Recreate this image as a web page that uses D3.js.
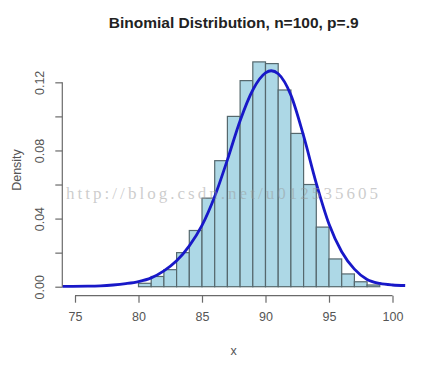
<!DOCTYPE html>
<html><head><meta charset="utf-8">
<script src="https://cdn.jsdelivr.net/npm/d3@7"></script>
<style>html,body{margin:0;padding:0;background:#fff;}svg{display:block;}</style>
</head><body>
<svg id="c" width="426" height="366"></svg>
<script>
// Histogram bins (left edge, right edge) and densities
const binStarts = [80,81,82,83,84,85,86,87,88,89,90,91,92,93,94,95,96,97,98];
const binEnds   = [81,82,83,84,85,86,87,88,89,90,91,92,93,94,95,96,97,98,99];
const densities = [0.002,0.006,0.010,0.020,0.033,0.052,0.074,0.100,0.121,0.132,0.131,0.1155,0.090,0.060,0.035,0.0163,0.0075,0.0029,0.001];
// Density curve
const curveX = [74,76,77,78,79,80,81,82,83,84,85,86,87,88,89,90,90.45,91,92,93,94,95,96,97,98,99,100,101];
const curveY = [0.0002,0.0003,0.0005,0.001,0.0018,0.003,0.0052,0.0093,0.0152,0.0240,0.0360,0.0530,0.0745,0.0975,0.1155,0.1255,0.1268,0.1250,0.1125,0.0885,0.0607,0.0368,0.0205,0.0103,0.0042,0.0019,0.0010,0.0007];
const xTicks = [75,80,85,90,95,100];
const yTicks = [0,0.02,0.04,0.06,0.08,0.10,0.12];
const yLabels = [0,0.04,0.08,0.12];
const xlim = [75,100];
const ylim = [0, d3.max(densities)];

const svg = d3.select("#c");
const L = 62.3, R = 405.2, T = 52.9, B = 295.7;
const xe = (xlim[1]-xlim[0])*0.04, ye = (ylim[1]-ylim[0])*0.04;
const x = d3.scaleLinear().domain([xlim[0]-xe, xlim[1]+xe]).range([L, R]);
const y = d3.scaleLinear().domain([ylim[0]-ye, ylim[1]+ye]).range([B, T]);

const font = "'Liberation Sans', Arial, sans-serif";

// Bars
svg.append("g").selectAll("rect").data(densities).join("rect")
  .attr("x", (d,i) => x(binStarts[i]))
  .attr("width", (d,i) => x(binEnds[i]) - x(binStarts[i]))
  .attr("y", d => y(d))
  .attr("height", d => y(0) - y(d))
  .attr("fill", "#add8e6")
  .attr("stroke", "#55686d")
  .attr("stroke-width", 1.2);

// Curve
const line = d3.line().x(d => x(d[0])).y(d => y(d[1])).curve(d3.curveMonotoneX);
svg.append("path").datum(curveX.map((v,i) => [v, curveY[i]]))
  .attr("d", line).attr("fill", "none")
  .attr("stroke", "#1818c8").attr("stroke-width", 2.8);

// Axes
const axCol = "#6a6a6a";
const xAxis = d3.axisBottom(x).tickValues(xTicks).tickSize(7).tickSizeOuter(0).tickPadding(9);
const gx = svg.append("g").attr("transform", `translate(0,${B})`).call(xAxis);
gx.select(".domain").attr("d", `M${x(xlim[0])},0H${x(xlim[1])}`).attr("stroke", axCol).attr("stroke-width", 1.2);
gx.selectAll(".tick line").attr("stroke", axCol).attr("stroke-width", 1.2);
gx.selectAll(".tick text").attr("font-family", font).attr("font-size", 12.5).attr("fill", "#555");

const yAxis = d3.axisLeft(y).tickValues(yTicks).tickSize(7).tickSizeOuter(0)
  .tickFormat(d => yLabels.some(v => Math.abs(v-d) < 1e-9) ? d3.format(".2f")(d) : "");
const gy = svg.append("g").attr("transform", `translate(${L},0)`).call(yAxis);
gy.select(".domain").attr("d", `M0,${y(0)}V${y(0.12)}`).attr("stroke", axCol).attr("stroke-width", 1.2);
gy.selectAll(".tick line").attr("stroke", axCol).attr("stroke-width", 1.2);
gy.selectAll(".tick text")
  .attr("font-family", font).attr("font-size", 12.5).attr("fill", "#555")
  .attr("x", null).attr("dy", null)
  .attr("text-anchor", "middle")
  .attr("dominant-baseline", "central")
  .attr("transform", `translate(${40-L},0) rotate(-90)`);

// Title & labels
svg.append("text").attr("x", 233.7).attr("y", 28).attr("text-anchor", "middle")
  .attr("font-family", font).attr("font-weight", "bold").attr("font-size", 15.5).attr("fill", "#222")
  .text("Binomial Distribution, n=100, p=.9");
svg.append("text").attr("x", 233.7).attr("y", 355).attr("text-anchor", "middle")
  .attr("font-family", font).attr("font-size", 12.5).attr("fill", "#555").text("x");
svg.append("text").attr("transform", "translate(17,170) rotate(-90)")
  .attr("text-anchor", "middle").attr("dominant-baseline", "central")
  .attr("font-family", font).attr("font-size", 12.5).attr("fill", "#555").text("Density");

// Watermark
svg.append("text").attr("x", 66).attr("y", 199)
  .attr("font-family", "'Liberation Serif', 'DejaVu Serif', serif").attr("font-size", 17)
  .attr("fill", "#9a9a9a").attr("fill-opacity", 0.5)
  .attr("textLength", 312).attr("lengthAdjust", "spacing")
  .text("http://blog.csdn.net/u012535605");
</script>
</body></html>
